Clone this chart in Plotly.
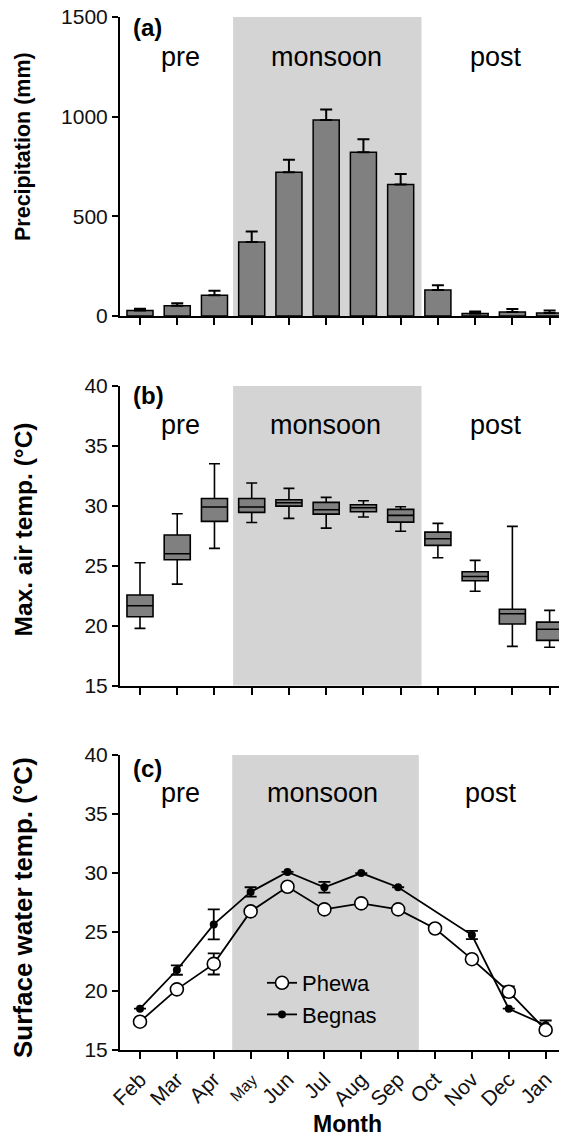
import plotly.graph_objects as go

# ---------------- data ----------------
months = ["Feb", "Mar", "Apr", "May", "Jun", "Jul", "Aug", "Sep", "Oct", "Nov", "Dec", "Jan"]
month_idx = list(range(len(months)))

precip_mean = [28, 52, 104, 371, 722, 984, 822, 660, 130, 12, 20, 15]
precip_err = [8, 12, 23, 53, 62, 52, 65, 53, 24, 10, 15, 12]

air_upper = [25.25, 29.33, 33.5, 31.9, 31.45, 30.7, 30.42, 29.92, 28.53, 25.45, 28.28, 21.28]
air_q3 = [22.56, 27.56, 30.6, 30.6, 30.5, 30.28, 30.08, 29.7, 27.8, 24.5, 21.37, 20.3]
air_median = [21.67, 26.0, 29.9, 29.9, 30.25, 29.67, 29.83, 29.2, 27.25, 24.1, 21.0, 19.7]
air_q1 = [20.75, 25.5, 28.7, 29.45, 29.97, 29.3, 29.5, 28.64, 26.7, 23.75, 20.14, 18.78]
air_lower = [19.78, 23.47, 26.45, 28.6, 28.95, 28.14, 29.06, 27.87, 25.67, 22.87, 18.28, 18.2]

phewa = [17.4, 20.14, 22.3, 26.75, 28.84, 26.92, 27.43, 26.92, 25.3, 22.7, 19.94, 16.7]
phewa_err = [0, 0, 0.9, 0, 0, 0, 0, 0, 0, 0, 0.45, 0.25]
begnas = [18.5, 21.78, 25.65, 28.4, 30.1, 28.8, 30.0, 28.8, None, 24.75, 18.5, 17.1]
begnas_err = [0, 0.4, 1.27, 0.4, 0, 0.45, 0, 0, 0, 0.35, 0, 0.4]

season_labels = ["pre", "monsoon", "post"]
panel_letters = ["(a)", "(b)", "(c)"]
y_titles = ["Precipitation (mm)", "Max. air temp. (\u00b0C)", "Surface water temp. (\u00b0C)"]

# ---------------- layout helpers ----------------
OFF = 8                      # page body margin in the browser
W, H = 567 - OFF, 1141 - OFF
ML, MR = 120 - OFF, 1
PW = W - ML - MR
FONT = "Liberation Sans, Arial, sans-serif"


def px(x):
    """reference-image pixel x -> paper x"""
    return (x - OFF - ML) / PW


def py(y):
    """reference-image pixel y -> paper y"""
    return 1 - (y - OFF) / H


GRAY = "#808080"
SHADE = "#d4d4d4"

fig = go.Figure()

# Panel a: bars
fig.add_trace(go.Bar(
    x=month_idx, y=precip_mean, width=0.7,
    marker=dict(color=GRAY, line=dict(color="black", width=1.5)),
    error_y=dict(type="data", symmetric=False, array=precip_err,
                 arrayminus=[0] * len(precip_err), color="black", thickness=2, width=6),
    xaxis="x", yaxis="y", showlegend=False,
))

# Panel b: boxes
fig.add_trace(go.Box(
    x=month_idx, q1=air_q1, median=air_median, q3=air_q3,
    lowerfence=air_lower, upperfence=air_upper,
    width=0.7, whiskerwidth=0.42, fillcolor=GRAY,
    line=dict(color="black", width=1.6), boxpoints=False,
    xaxis="x2", yaxis="y2", showlegend=False,
))

# Panel c: lines
fig.add_trace(go.Scatter(
    x=month_idx, y=begnas, mode="lines+markers", name="Begnas",
    line=dict(color="black", width=1.8), connectgaps=True,
    marker=dict(symbol="circle", size=8, color="black"),
    error_y=dict(type="data", array=begnas_err, color="black", thickness=1.8, width=6),
    xaxis="x3", yaxis="y3", legendrank=2,
))
fig.add_trace(go.Scatter(
    x=month_idx, y=phewa, mode="lines+markers", name="Phewa",
    line=dict(color="black", width=1.8),
    marker=dict(symbol="circle", size=13, color="white", line=dict(color="black", width=1.6)),
    error_y=dict(type="data", array=phewa_err, color="black", thickness=1.8, width=6),
    xaxis="x3", yaxis="y3", legendrank=1,
))

# panel geometry in reference pixels (top/bottom of y axis)
panels = [
    dict(top=17, bot=316, xr=[-0.537, 11.44], xdom=[0, 1], yr=[0, 1500.5], tv=[0, 500, 1000, 1500]),
    dict(top=385.7, bot=685.7, xr=[-0.537, 11.44], xdom=[0, 1], yr=[15, 40.01], tv=[15, 20, 25, 30, 35, 40]),
    dict(top=755, bot=1050, xr=[-0.542, 11.47], xdom=[0, 443 / PW], yr=[15, 40.01], tv=[15, 20, 25, 30, 35, 40]),
]

ticktext = [("<span style='font-size:16px'>%s</span>" % m) if m == "May" else m for m in months]

layout_axes = {}
for i, p in enumerate(panels):
    sfx = "" if i == 0 else str(i + 1)
    layout_axes["xaxis" + sfx] = dict(
        domain=p["xdom"], range=p["xr"], anchor="y" + sfx,
        showline=True, linecolor="black", linewidth=2,
        ticks="outside", ticklen=7, tickwidth=2, tickcolor="black",
        tickvals=month_idx, ticktext=ticktext,
        showticklabels=(i == 2), tickangle=-45, ticklabeloverflow="allow",
        tickfont=dict(family=FONT, size=21, color="#111"),
        showgrid=False, zeroline=False, automargin=False, fixedrange=True,
    )
    layout_axes["yaxis" + sfx] = dict(
        domain=[py(p["bot"]), py(p["top"])], range=p["yr"], anchor="x" + sfx,
        showline=True, linecolor="black", linewidth=2,
        ticks="outside", ticklen=6, tickwidth=2, tickcolor="black",
        tickvals=p["tv"], tickfont=dict(family=FONT, size=21, color="#111"),
        ticklabeloverflow="allow",
        showgrid=False, zeroline=False, automargin=False, fixedrange=True,
    )

shapes = []
for i, p in enumerate(panels):
    sfx = "" if i == 0 else str(i + 1)
    shapes.append(dict(type="rect", xref="x" + sfx, yref="y" + sfx,
                       x0=2.5, x1=7.56, y0=p["yr"][0], y1=p["tv"][-1],
                       fillcolor=SHADE, line=dict(width=0), layer="below"))

annotations = []
season_x = [[180, 326, 495.7], [180, 325, 495.7], [180, 322.7, 491]]
season_y = [57, 425, 793]
letter_y = [27, 395, 768]
title_y = [147, 529.5, 908]
title_size = [21.5, 24.5, 26]
for i in range(3):
    annotations.append(dict(text="<b>%s</b>" % panel_letters[i], x=px(131), y=py(letter_y[i]),
                            xref="paper", yref="paper", xanchor="left", yanchor="middle",
                            showarrow=False, font=dict(family=FONT, size=24, color="black")))
    for s, lab in enumerate(season_labels):
        annotations.append(dict(text=lab, x=px(season_x[i][s]), y=py(season_y[i]),
                                xref="paper", yref="paper", xanchor="center", yanchor="middle",
                                showarrow=False, font=dict(family=FONT, size=27, color="black")))
    annotations.append(dict(text="<b>%s</b>" % y_titles[i], x=px(23), y=py(title_y[i]),
                            xref="paper", yref="paper", xanchor="center", yanchor="middle",
                            textangle=-90, showarrow=False,
                            font=dict(family=FONT, size=title_size[i], color="black")))
annotations.append(dict(text="<b>Month</b>", x=px(347), y=py(1124),
                        xref="paper", yref="paper", xanchor="center", yanchor="middle",
                        showarrow=False, font=dict(family=FONT, size=23, color="black")))

fig.update_layout(
    width=W, height=H,
    margin=dict(l=ML, r=MR, t=0, b=0, pad=0),
    paper_bgcolor="white", plot_bgcolor="white",
    font=dict(family=FONT, color="black"),
    shapes=shapes, annotations=annotations,
    legend=dict(x=px(262), y=py(962), xanchor="left", yanchor="top",
                bgcolor="rgba(0,0,0,0)", font=dict(family=FONT, size=22, color="black"),
                tracegroupgap=0, itemwidth=30),
    showlegend=True,
    **layout_axes,
)

fig.write_html("out.html")
